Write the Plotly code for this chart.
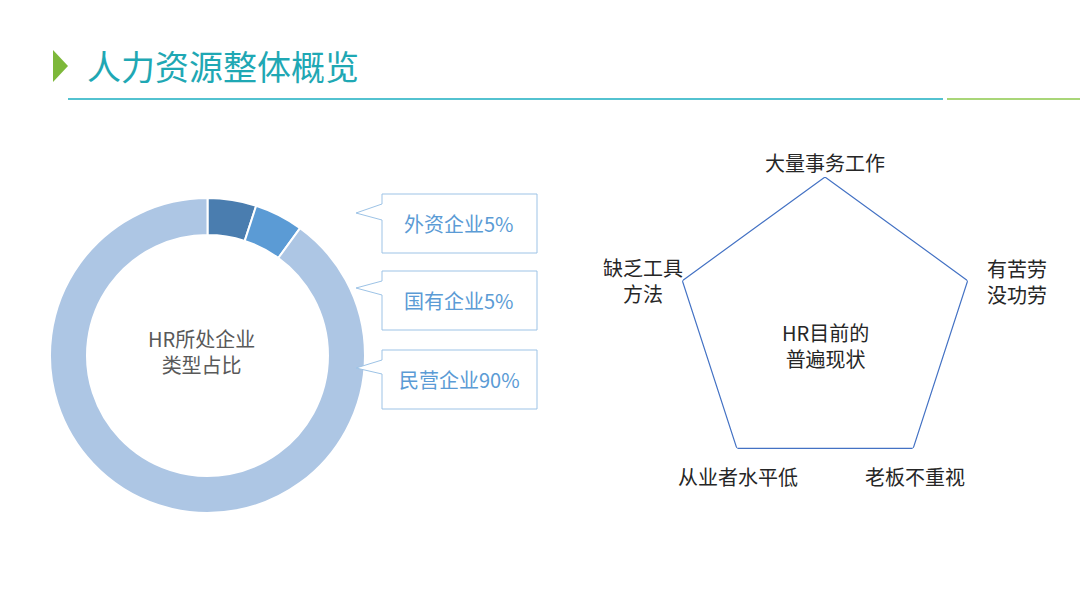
import plotly.graph_objects as go

W, H = 1080, 608

# ---- data ----
company_types = ["外资企业", "国有企业", "民营企业"]
company_share = [5, 5, 90]
company_colors = ["#4A7DAF", "#5B9BD5", "#ADC6E4"]

hr_issues = ["大量事务工作", "有苦劳没功劳", "老板不重视", "从业者水平低", "缺乏工具方法"]
issue_level = [1, 1, 1, 1, 1]
issue_label_lines = ["大量事务工作", "有苦劳<br>没功劳", "老板不重视", "从业者水平低", "缺乏工具<br>方法"]

title_text = "人力资源整体概览"
donut_center_text = "HR所处企业<br>类型占比"
radar_center_text = "HR目前的<br>普遍现状"

FONT = "Noto Sans CJK SC"


def px(x):
    return x / W


def py(y):
    return 1 - y / H


fig = go.Figure()

# donut
fig.add_trace(go.Pie(
    labels=company_types,
    values=company_share,
    hole=0.765,
    sort=False,
    direction="clockwise",
    rotation=0,
    marker=dict(colors=company_colors, line=dict(color="white", width=2)),
    textinfo="none",
    hoverinfo="label+percent",
    domain=dict(x=[px(50), px(365)], y=[py(513), py(198)]),
    showlegend=False,
))

# radar (pentagon)
fig.add_trace(go.Scatterpolar(
    r=issue_level + [issue_level[0]],
    theta=hr_issues + [hr_issues[0]],
    mode="lines",
    line=dict(color="#4472C4", width=1.2),
    showlegend=False,
    hoverinfo="skip",
))

fig.update_layout(
    width=W, height=H,
    margin=dict(l=0, r=0, t=0, b=0),
    paper_bgcolor="white",
    plot_bgcolor="white",
    font=dict(family=FONT, color="#262626"),
    polar=dict(
        domain=dict(x=[px(675), px(975)], y=[py(477), py(177)]),
        bgcolor="rgba(0,0,0,0)",
        radialaxis=dict(visible=False, range=[0, 1]),
        angularaxis=dict(direction="clockwise", rotation=90, showline=False,
                         showgrid=False, showticklabels=False, ticks=""),
    ),
)

shapes = []
# title triangle
shapes.append(dict(type="path", xref="paper", yref="paper",
                   path=f"M {px(53)},{py(50)} L {px(68)},{py(66)} L {px(53)},{py(82)} Z",
                   fillcolor="#7DB83A", line=dict(width=0)))
# title underline
shapes.append(dict(type="line", xref="paper", yref="paper",
                   x0=px(68), x1=px(943), y0=py(99), y1=py(99),
                   line=dict(color="#1AAEC0", width=1.5)))
shapes.append(dict(type="line", xref="paper", yref="paper",
                   x0=px(947), x1=px(1080), y0=py(99), y1=py(99),
                   line=dict(color="#8CC84B", width=1.5)))

# callout boxes
boxes = [(194, 253, 204, 213, 220), (271, 330, 281, 288, 295), (350, 409, 360, 368, 374)]
for top, bot, t1, tip, t2 in boxes:
    path = (f"M {px(382)},{py(top)} L {px(537)},{py(top)} L {px(537)},{py(bot)} "
            f"L {px(382)},{py(bot)} L {px(382)},{py(t2)} L {px(356)},{py(tip)} "
            f"L {px(382)},{py(t1)} Z")
    shapes.append(dict(type="path", xref="paper", yref="paper", path=path,
                       fillcolor="white", line=dict(color="#9DC3E6", width=1)))

annotations = []


def ann(text, x, y, size, color, xanchor="center"):
    annotations.append(dict(text=text, x=px(x), y=py(y), xref="paper", yref="paper",
                            xanchor=xanchor, yanchor="middle", showarrow=False,
                            font=dict(family=FONT, size=size, color=color)))


ann(title_text, 85, 65, 34, "#1FA8B4", xanchor="left")
ann(donut_center_text, 201, 351, 20, "#595959")

callout_y = [223, 300, 379]
for name, share, y in zip(company_types, company_share, callout_y):
    ann(f"{name}{share}%", 459, y, 20, "#5B9BD5")

ann(radar_center_text, 825, 345, 20, "#262626")

issue_label_pos = [(825, 162, "center"), (985, 281, "left"), (915, 476, "center"),
                   (738, 476, "center"), (643, 280, "center")]
for label, (x, y, anc) in zip(issue_label_lines, issue_label_pos):
    ann(label, x, y, 20, "#262626", xanchor=anc)

fig.update_layout(shapes=shapes, annotations=annotations)

fig.write_html("out.html", config={"displayModeBar": False},
               post_script="document.body.style.margin='0';document.body.style.overflow='hidden';")
